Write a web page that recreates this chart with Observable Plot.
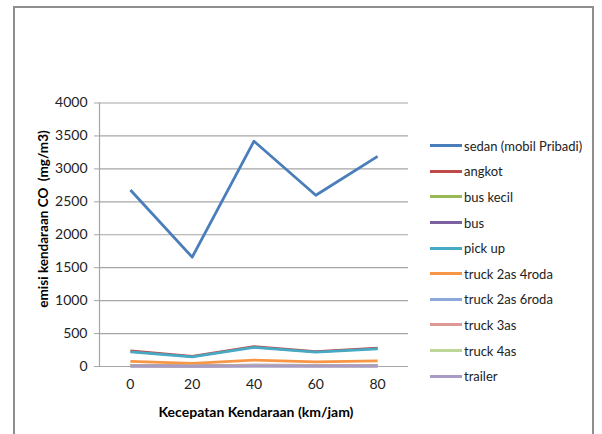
<!DOCTYPE html>
<html>
<head>
<meta charset="utf-8">
<script src="https://cdn.jsdelivr.net/npm/d3@7"></script>
<script src="https://cdn.jsdelivr.net/npm/@observablehq/plot@0.6"></script>
<style>
  html, body { margin: 0; padding: 0; background: #fff; }
  #wrap { position: relative; width: 602px; height: 434px; overflow: hidden; font-family: Lato, "Open Sans", sans-serif; }
  #border { position: absolute; left: 13px; top: 6px; width: 581px; height: 460px; border: 2px solid #8e8e8e; box-sizing: border-box; }
  #chart { position: absolute; left: 0; top: 0; }
  .ytitle { position: absolute; left: 43px; top: 219px; transform: translate(-50%, -50%) rotate(-90deg); font-weight: bold; font-size: 13.5px; white-space: nowrap; color: #000; }
  .xtitle { position: absolute; left: 256px; top: 411px; transform: translate(-50%, -50%); font-weight: bold; font-size: 14px; white-space: nowrap; color: #000; }
  #legend { position: absolute; left: 430px; top: 133px; }
  .item { display: flex; align-items: center; height: 25.6px; font-size: 13px; color: #222; white-space: nowrap; }
  .sw { width: 32px; height: 3px; margin-right: 2px; }
</style>
</head>
<body>
<div id="wrap">
  <div id="border"></div>
  <div id="chart"></div>
  <div class="ytitle">emisi kendaraan CO &nbsp;(mg/m3)</div>
  <div class="xtitle">Kecepatan Kendaraan (km/jam)</div>
  <div id="legend"></div>
</div>
<script>
const speeds = [0, 20, 40, 60, 80];
const yTicks = [0, 500, 1000, 1500, 2000, 2500, 3000, 3500, 4000];
const seriesNames = ["sedan (mobil Pribadi)", "angkot", "bus kecil", "bus", "pick up",
  "truck 2as 4roda", "truck 2as 6roda", "truck 3as", "truck 4as", "trailer"];
const seriesColors = ["#4a7ebb", "#be4b48", "#98b954", "#7d60a0", "#46aac5",
  "#f79646", "#8aa9d8", "#de9a97", "#bdd69a", "#a99bc5"];

const sedan = [2680, 1660, 3420, 2600, 3190];
const angkot = [235, 155, 300, 225, 280];
const busKecil = [12, 8, 15, 12, 14];
const bus = [18, 10, 20, 16, 18];
const pickUp = [222, 145, 290, 218, 268];
const truck2as4roda = [78, 46, 98, 70, 86];
const truck2as6roda = [6, 4, 8, 6, 7];
const truck3as = [10, 6, 12, 9, 11];
const truck4as = [8, 5, 10, 8, 9];
const trailer = [5, 3, 6, 5, 6];

const seriesValues = [sedan, angkot, busKecil, bus, pickUp, truck2as4roda, truck2as6roda, truck3as, truck4as, trailer];

const rows = [];
seriesNames.forEach((name, i) => {
  speeds.forEach((s, j) => rows.push({series: name, speed: s, value: seriesValues[i][j]}));
});

const chart = Plot.plot({
  width: 602,
  height: 434,
  marginLeft: 99,
  marginRight: 194,
  marginTop: 102.5,
  marginBottom: 68,
  style: {background: "transparent", fontFamily: "Lato, 'Open Sans', sans-serif"},
  x: {domain: [-10, 90]},
  y: {domain: [0, 4000]},
  color: {domain: seriesNames, range: seriesColors},
  marks: [
    Plot.ruleY(yTicks, {stroke: "#a6a6a6", strokeWidth: 1.2}),
    Plot.ruleX([-10], {stroke: "#a6a6a6", strokeWidth: 1.2}),
    Plot.axisY({ticks: yTicks, tickSize: 5, tickPadding: 7, stroke: "#a6a6a6", fill: "#222", fontSize: 14, label: null, tickFormat: d => String(d)}),
    Plot.axisX({ticks: speeds, tickSize: 0, tickPadding: 13, fill: "#222", fontSize: 14, label: null, tickFormat: d => String(d)}),
    Plot.line(rows, {x: "speed", y: "value", z: "series", stroke: "series", strokeWidth: 2.8, strokeLinejoin: "round", strokeLinecap: "butt"})
  ]
});
document.getElementById("chart").appendChild(chart);

const legend = document.getElementById("legend");
seriesNames.forEach((name, i) => {
  const item = document.createElement("div");
  item.className = "item";
  const sw = document.createElement("div");
  sw.className = "sw";
  sw.style.background = seriesColors[i];
  const label = document.createElement("span");
  label.textContent = name;
  item.appendChild(sw);
  item.appendChild(label);
  legend.appendChild(item);
});
</script>
</body>
</html>
